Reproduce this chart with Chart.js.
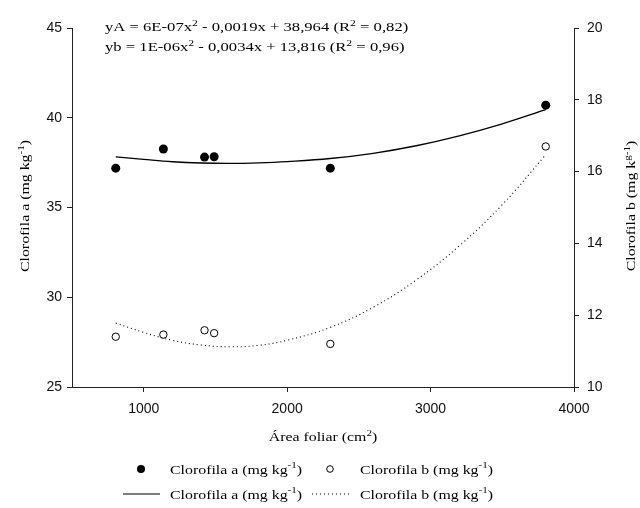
<!DOCTYPE html>
<html>
<head>
<meta charset="utf-8">
<script src="https://cdn.jsdelivr.net/npm/chart.js@4"></script>
<style>
  body { margin: 0; background: #fff; }
  #chart { display: block; }
</style>
</head>
<body>
<canvas id="chart" width="640" height="508"></canvas>
<script>
// measured points
const areaFoliar = [805, 1137, 1424, 1491, 2301, 3803];
const clorofilaA = [37.19, 38.26, 37.81, 37.83, 37.19, 40.70];
const clorofilaB = [11.40, 11.46, 11.58, 11.50, 11.20, 16.70];

// fitted curves
const curveX = [805, 1000, 1200, 1400, 1600, 1800, 2000, 2300, 2600, 2900, 3200, 3500, 3803];
const curveA = [37.82, 37.68, 37.55, 37.48, 37.46, 37.49, 37.56, 37.73, 38.02, 38.44, 38.99, 39.66, 40.45];
const curveB = [11.78, 11.52, 11.30, 11.17, 11.12, 11.16, 11.30, 11.66, 12.22, 12.98, 13.93, 15.08, 16.47];

const xTicks = [1000, 2000, 3000, 4000];
const yATicks = [25, 30, 35, 40, 45];
const yBTicks = [10, 12, 14, 16, 18, 20];

const serif = '"Liberation Serif", "Times New Roman", serif';
const sans = '"Liberation Sans", Arial, sans-serif';
const FS = 13;

function toPoints(xs, ys) {
  return xs.map((x, i) => ({ x: x, y: ys[i] }));
}

// text with superscripts: parts = [[text, isSup], ...]
function drawRich(ctx, parts, x, y, opts) {
  opts = opts || {};
  ctx.save();
  ctx.translate(x, y);
  if (opts.rotate) ctx.rotate(-Math.PI / 2);
  ctx.scale(opts.stretch || 1.22, 1);
  ctx.fillStyle = '#000';
  ctx.textBaseline = 'alphabetic';
  ctx.textAlign = 'left';
  let w = 0;
  parts.forEach(p => {
    ctx.font = (p[1] ? FS * 0.7 : FS) + 'px ' + serif;
    w += ctx.measureText(p[0]).width;
  });
  let cx = opts.center ? -w / 2 : 0;
  parts.forEach(p => {
    ctx.font = (p[1] ? FS * 0.7 : FS) + 'px ' + serif;
    ctx.fillText(p[0], cx, p[1] ? -FS * 0.4 : 0);
    cx += ctx.measureText(p[0]).width;
  });
  ctx.restore();
}

const labelA = [['Clorofila a (mg kg'], ['-1', true], [')']];
const labelB = [['Clorofila b (mg kg'], ['-1', true], [')']];

const textPlugin = {
  id: 'texts',
  afterDraw(chart) {
    const ctx = chart.ctx;
    drawRich(ctx, [['yA = 6E-07x'], ['2', true], [' - 0,0019x + 38,964 (R'], ['2', true], [' = 0,82)']], 105, 31, { stretch: 1.28 });
    drawRich(ctx, [['yb = 1E-06x'], ['2', true], [' - 0,0034x + 13,816 (R'], ['2', true], [' = 0,96)']], 105, 51, { stretch: 1.28 });

    drawRich(ctx, [['Área foliar (cm'], ['2', true], [')']], 323, 441, { center: true });
    drawRich(ctx, labelA, 29, 206, { center: true, rotate: true });
    drawRich(ctx, [['Clorofila b (mg k'], ['g-1', true], [')']], 635, 206, { center: true, rotate: true });

    // legend
    ctx.save();
    ctx.strokeStyle = '#000';
    ctx.fillStyle = '#000';
    ctx.beginPath();
    ctx.arc(141, 469, 4, 0, Math.PI * 2);
    ctx.fill();
    ctx.beginPath();
    ctx.lineWidth = 1;
    ctx.arc(330, 469, 3.3, 0, Math.PI * 2);
    ctx.stroke();
    ctx.beginPath();
    ctx.lineWidth = 1.2;
    ctx.moveTo(123, 494);
    ctx.lineTo(160, 494);
    ctx.stroke();
    ctx.beginPath();
    ctx.lineWidth = 1;
    ctx.setLineDash([1, 3]);
    ctx.moveTo(312, 494);
    ctx.lineTo(350, 494);
    ctx.stroke();
    ctx.restore();
    drawRich(ctx, labelA, 170, 473.5);
    drawRich(ctx, labelB, 360, 473.5);
    drawRich(ctx, labelA, 170, 498.5);
    drawRich(ctx, labelB, 360, 498.5);
  }
};

function axisStyle(extra) {
  return Object.assign({
    grid: { drawOnChartArea: false, drawTicks: true, tickLength: 5, color: '#222' },
    border: { display: true, color: '#222', width: 1 },
  }, extra);
}

const plain = v => String(v);

new Chart(document.getElementById('chart'), {
  type: 'scatter',
  data: {
    datasets: [
      {
        label: 'Clorofila a',
        data: toPoints(areaFoliar, clorofilaA),
        yAxisID: 'yA',
        pointRadius: 4.5,
        pointBackgroundColor: '#000',
        pointBorderColor: '#000',
        pointBorderWidth: 0,
        order: 1
      },
      {
        label: 'Clorofila b',
        data: toPoints(areaFoliar, clorofilaB),
        yAxisID: 'yB',
        pointRadius: 3.7,
        pointBackgroundColor: '#fff',
        pointBorderColor: '#000',
        pointBorderWidth: 1,
        order: 1
      },
      {
        type: 'line',
        label: 'Ajuste a',
        data: toPoints(curveX, curveA),
        yAxisID: 'yA',
        borderColor: '#000',
        borderWidth: 1.3,
        pointRadius: 0,
        tension: 0.4,
        fill: false,
        order: 2
      },
      {
        type: 'line',
        label: 'Ajuste b',
        data: toPoints(curveX, curveB),
        yAxisID: 'yB',
        borderColor: '#000',
        borderWidth: 1.1,
        borderDash: [1, 3],
        pointRadius: 0,
        tension: 0.4,
        fill: false,
        order: 2
      }
    ]
  },
  options: {
    responsive: false,
    animation: false,
    layout: { padding: { top: 28, left: 0, right: 0, bottom: 0 } },
    plugins: { legend: { display: false }, tooltip: { enabled: false } },
    scales: {
      x: axisStyle({
        type: 'linear',
        position: 'bottom',
        min: 500,
        max: 4000,
        afterBuildTicks: s => { s.ticks = xTicks.map(v => ({ value: v })); },
        afterFit: s => { s.height = 121; },
        ticks: { color: '#111', font: { family: sans, size: 14 }, padding: 9, maxRotation: 0, callback: plain }
      }),
      yA: axisStyle({
        type: 'linear',
        position: 'left',
        min: 25,
        max: 45,
        afterBuildTicks: s => { s.ticks = yATicks.map(v => ({ value: v })); },
        afterFit: s => { s.width = 72; },
        ticks: { color: '#111', font: { family: sans, size: 14 }, padding: 5, callback: plain }
      }),
      yB: axisStyle({
        type: 'linear',
        position: 'right',
        min: 10,
        max: 20,
        afterBuildTicks: s => { s.ticks = yBTicks.map(v => ({ value: v })); },
        afterFit: s => { s.width = 66; },
        ticks: { color: '#111', font: { family: sans, size: 14 }, padding: 8, callback: plain }
      })
    }
  },
  plugins: [textPlugin]
});
</script>
</body>
</html>
